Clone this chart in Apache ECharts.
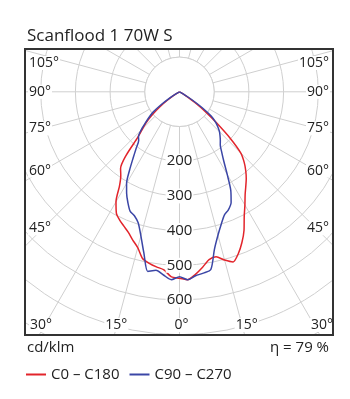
<!DOCTYPE html>
<html>
<head>
<meta charset="UTF-8">
<title>Scanflood 1 70W S</title>
<script src="https://cdn.jsdelivr.net/npm/echarts@6/dist/echarts.min.js"></script>
<style>
body { margin: 0; padding: 0; background: #fff; }
#main { width: 350px; height: 399px; }
</style>
</head>
<body>
<div id="main"></div>
<script>
// gamma angles (deg from nadir) and intensities in cd/klm
var gamma = [0, 2.5, 5, 7.5, 10, 12.5, 15, 17.5, 20, 22.5, 25, 27.5, 30, 32.5, 35, 37.5, 40, 42.5, 45, 47.5, 50, 52.5, 55, 57.5, 60, 70, 80, 90];
var c0   = [537, 542, 528, 510, 491, 487, 502, 514, 496, 470, 440, 404, 377, 352, 333, 316, 297, 276, 250, 198, 140, 95, 55, 22, 5, 0, 0, 0];
var c180 = [537, 534, 515, 509, 502, 492, 465, 448, 431, 419, 408, 394, 366, 322, 295, 279, 240, 178, 150, 128, 100, 72, 45, 22, 6, 0, 0, 0];
var c90  = [533, 542, 532, 527, 520, 465, 428, 400, 378, 368, 352, 320, 275, 238, 212, 193, 183, 173, 163, 150, 135, 115, 80, 40, 12, 0, 0, 0];
var c270 = [533, 542, 530, 519, 526, 475, 430, 396, 380, 372, 352, 330, 305, 268, 233, 205, 183, 175, 157, 134, 115, 95, 65, 35, 12, 0, 0, 0];

var sideAngles = [105, 90, 75, 60, 45];
var bottomAngles = [30, 15, 0];
var radiusTicks = [200, 300, 400, 500, 600];
var seriesNames = ['C0 – C180', 'C90 – C270'];

var FONT = "'Open Sans', sans-serif";
var frame = { x: 25, y: 49, w: 308, h: 286 };
var pxPer = 0.347;
var center = [179.5, 91.8];

// left half = C180 / C270 (angle g), right half = C0 / C90 (angle 360-g)
function curve(left, right) {
    var pts = [];
    for (var i = gamma.length - 1; i >= 0; i--) pts.push([left[i], gamma[i]]);
    for (var j = 1; j < gamma.length; j++) pts.push([right[j], 360 - gamma[j]]);
    return pts;
}

var myChart = echarts.init(document.getElementById('main'));
var option = {
    animation: false,
    polar: {
        center: center,
        radius: [0, 900 * pxPer]
    },
    angleAxis: {
        type: 'value', min: 0, max: 360, interval: 15,
        startAngle: 270, clockwise: true, z: 0,
        axisLine: { show: false }, axisTick: { show: false }, axisLabel: { show: false },
        splitLine: { show: true, lineStyle: { color: '#cfcfcf', width: 1 } }
    },
    radiusAxis: {
        type: 'value', min: 0, max: 900, interval: 100, z: 0,
        axisLine: { show: false }, axisTick: { show: false }, axisLabel: { show: false },
        splitLine: { show: true, lineStyle: { color: '#cfcfcf', width: 1 } }
    },
    legend: {
        data: seriesNames,
        left: 26, top: 367, z: 100, padding: 0,
        icon: 'rect', itemWidth: 20, itemHeight: 2, itemGap: 10,
        textStyle: { fontSize: 15, color: '#222', fontFamily: FONT }
    },
    series: [
        {
            name: seriesNames[0], type: 'line', coordinateSystem: 'polar', z: 10,
            data: curve(c180, c0), symbol: 'none', clip: false, smooth: 0.25,
            itemStyle: { color: '#e2242b' },
            lineStyle: { color: '#e2242b', width: 1.5 }
        },
        {
            name: seriesNames[1], type: 'line', coordinateSystem: 'polar', z: 10,
            data: curve(c270, c90), symbol: 'none', clip: false, smooth: 0.25,
            itemStyle: { color: '#3b46a6' },
            lineStyle: { color: '#3b46a6', width: 1.5 }
        }
    ]
};
myChart.setOption(option);

// labels placed along the polar rays
function ray(a) {
    var o = myChart.convertToPixel({ seriesIndex: 0 }, [0, a]);
    var p = myChart.convertToPixel({ seriesIndex: 0 }, [800, a]);
    return { o: o, dx: p[0] - o[0], dy: p[1] - o[1] };
}
function txt(text, x, y, align, size) {
    return {
        type: 'text', z: 60,
        style: {
            text: text, x: x, y: y, font: (size || 14) + 'px ' + FONT, fill: '#222',
            align: align, verticalAlign: 'middle',
            textAlign: align, textVerticalAlign: 'middle',
            backgroundColor: '#fff', padding: [0, 1]
        }
    };
}

var inner = myChart.convertToPixel({ seriesIndex: 0 }, [100, 0]);
var els = [
    // blank disc inside the 100 circle (spokes start there)
    { type: 'circle', z: 5, shape: { cx: center[0], cy: center[1], r: inner[1] - center[1] },
      style: { fill: '#fff', stroke: '#cfcfcf', lineWidth: 1 } },
    // white masks outside the frame
    { type: 'rect', z: 50, shape: { x: 0, y: 0, width: 350, height: frame.y }, style: { fill: '#fff' } },
    { type: 'rect', z: 50, shape: { x: 0, y: frame.y + frame.h, width: 350, height: 399 }, style: { fill: '#fff' } },
    { type: 'rect', z: 50, shape: { x: 0, y: 0, width: frame.x, height: 399 }, style: { fill: '#fff' } },
    { type: 'rect', z: 50, shape: { x: frame.x + frame.w, y: 0, width: 50, height: 399 }, style: { fill: '#fff' } }
];

sideAngles.forEach(function (g) {
    var rl = ray(g);
    var t = (43 - rl.o[0]) / rl.dx;
    var y = Math.max(63, rl.o[1] + t * rl.dy);
    els.push(txt(g + '°', frame.x + 3, y, 'left'));
    els.push(txt(g + '°', frame.x + frame.w - 3, y, 'right'));
});
bottomAngles.forEach(function (g) {
    var yb = frame.y + frame.h;
    [g, 360 - g].forEach(function (a, k) {
        if (g === 0 && k === 1) return;
        var r = ray(a);
        var x = r.dy === 0 ? r.o[0] : r.o[0] + (yb - r.o[1]) / r.dy * r.dx;
        els.push(txt(g + '°', x + 2, 325, 'center'));
    });
});
radiusTicks.forEach(function (v) {
    var p = myChart.convertToPixel({ seriesIndex: 0 }, [v, 0]);
    els.push(txt(String(v), p[0], p[1], 'center', 15));
});

els.push({
    type: 'rect', z: 70,
    shape: { x: frame.x, y: frame.y, width: frame.w, height: frame.h },
    style: { fill: 'none', stroke: '#333', lineWidth: 2 }
});
els.push({ type: 'text', z: 70, style: { text: 'Scanflood 1 70W S', x: 27, y: 36, font: '17px ' + FONT, fill: '#222', verticalAlign: 'middle', textVerticalAlign: 'middle' } });
els.push({ type: 'text', z: 70, style: { text: 'cd/klm', x: 27, y: 348, font: '15px ' + FONT, fill: '#222', verticalAlign: 'middle', textVerticalAlign: 'middle' } });
els.push({ type: 'text', z: 70, style: { text: 'η = 79 %', x: 329, y: 348, font: '15px ' + FONT, fill: '#222', align: 'right', textAlign: 'right', verticalAlign: 'middle', textVerticalAlign: 'middle' } });

myChart.setOption({ graphic: { elements: els } });
</script>
</body>
</html>
